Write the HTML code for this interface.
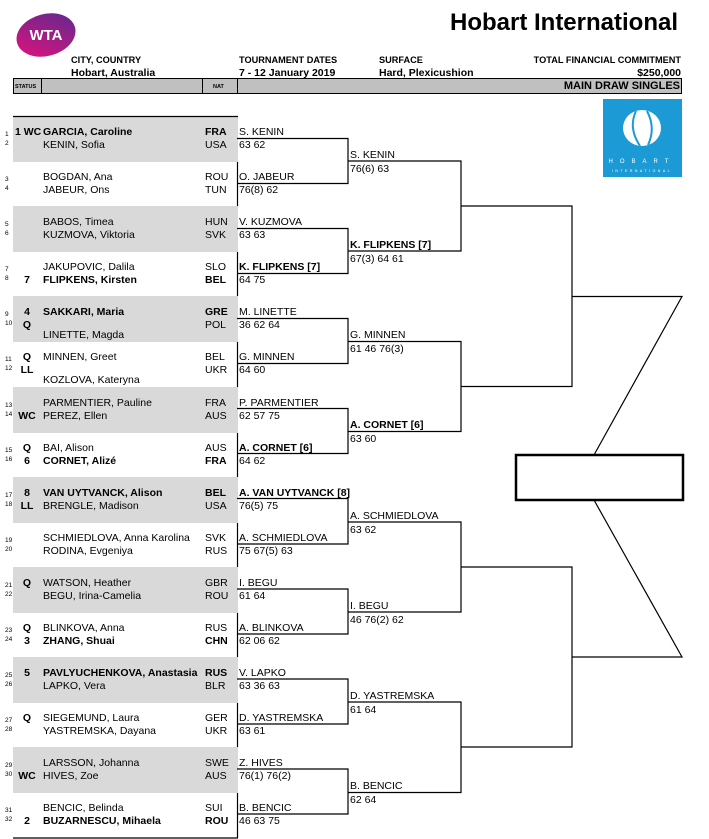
<!DOCTYPE html>
<html><head><meta charset="utf-8"><style>
body{margin:0;width:709px;height:839px;background:#fff;position:relative;overflow:hidden;font-family:"Liberation Sans",Arial,sans-serif;color:#000}
.t{position:absolute;font-size:10.5px;line-height:14px;white-space:nowrap}
.b{font-weight:bold}
.n{position:absolute;font-size:6.5px;line-height:8px;left:5px}
.s{position:absolute;font-size:10.5px;line-height:14px;font-weight:bold;width:24px;text-align:center;left:15px}
.g{position:absolute;left:13px;width:225px;height:46px;background:#d9d9d9}
.h{position:absolute;font-size:9.2px;font-weight:bold;line-height:10px;white-space:nowrap}
.h2{position:absolute;font-size:10.5px;font-weight:bold;line-height:12px;white-space:nowrap}
</style></head><body>
<svg style="position:absolute;left:0;top:0" width="709" height="839">
<defs><linearGradient id="w" x1="0" y1="1" x2="1" y2="0"><stop offset="0" stop-color="#e4117a"/><stop offset="1" stop-color="#5b2a90"/></linearGradient></defs>
<ellipse cx="46" cy="35" rx="30" ry="21" fill="url(#w)" transform="rotate(-15 46 35)"/>
<text x="46" y="40" font-family="Liberation Sans" font-weight="bold" font-size="15" fill="#fff" text-anchor="middle">WTA</text>
<rect x="603" y="99" width="79" height="78" fill="#1b9ad6"/>
<ellipse cx="642" cy="128" rx="19" ry="18" fill="#fff"/>
<path d="M636 111 Q628 128 640 146" stroke="#1b9ad6" stroke-width="2" fill="none"/>
<path d="M647 111 Q656 128 648 145" stroke="#1b9ad6" stroke-width="2" fill="none"/>
<text x="642" y="163" font-family="Liberation Sans" font-size="6" fill="#fff" text-anchor="middle" letter-spacing="7">HOBART</text>
<text x="642" y="172" font-family="Liberation Sans" font-size="3.5" fill="#fff" text-anchor="middle" letter-spacing="2.5">INTERNATIONAL</text>
<rect x="13.5" y="78.5" width="668" height="15" fill="#c0c0c0" stroke="#000" stroke-width="1"/>
<line x1="41.5" y1="79" x2="41.5" y2="93" stroke="#000"/>
<line x1="202.5" y1="79" x2="202.5" y2="93" stroke="#000"/>
<line x1="237.5" y1="79" x2="237.5" y2="93" stroke="#000"/>
</svg>
<div class="t b" style="right:31px;top:9px;font-size:24px;line-height:28px">Hobart International</div>
<div class="h" style="left:71px;top:55px">CITY, COUNTRY</div>
<div class="h2" style="left:71px;top:67px">Hobart, Australia</div>
<div class="h" style="left:239px;top:55px">TOURNAMENT DATES</div>
<div class="h2" style="left:239px;top:67px">7 - 12 January 2019</div>
<div class="h" style="left:379px;top:55px">SURFACE</div>
<div class="h2" style="left:379px;top:67px">Hard, Plexicushion</div>
<div class="h" style="right:28px;top:55px">TOTAL FINANCIAL COMMITMENT</div>
<div class="h2" style="right:28px;top:67px">$250,000</div>
<div class="h" style="left:15px;top:82px;font-size:5.5px">STATUS</div>
<div class="h" style="left:213px;top:82px;font-size:5.5px">NAT</div>
<div class="t b" style="right:29px;top:79px;font-size:11px">MAIN DRAW SINGLES</div>

<div class="g" style="top:116px"></div>
<div class="g" style="top:206px"></div>
<div class="g" style="top:296px"></div>
<div class="g" style="top:387px"></div>
<div class="g" style="top:477px"></div>
<div class="g" style="top:567px"></div>
<div class="g" style="top:657px"></div>
<div class="g" style="top:747px"></div>

<svg style="position:absolute;left:0;top:0" width="709" height="839" fill="none" stroke="#000" stroke-width="1.2">
<line x1="13" y1="116.5" x2="238" y2="116.5"/>
<line x1="13" y1="838" x2="238" y2="838"/>
<line x1="237.5" y1="162" x2="237.5" y2="206"/>
<line x1="237.5" y1="252" x2="237.5" y2="296"/>
<line x1="237.5" y1="342" x2="237.5" y2="387"/>
<line x1="237.5" y1="433" x2="237.5" y2="477"/>
<line x1="237.5" y1="523" x2="237.5" y2="567"/>
<line x1="237.5" y1="613" x2="237.5" y2="657"/>
<line x1="237.5" y1="703" x2="237.5" y2="747"/>
<line x1="237.5" y1="793" x2="237.5" y2="838"/>
<path d="M237 138.5H348V183.5H237"/>
<path d="M237 228.5H348V273.5H237"/>
<path d="M237 318.5H348V363.5H237"/>
<path d="M237 408.5H348V453.5H237"/>
<path d="M237 498.5H348V544H237"/>
<path d="M237 589H348V634H237"/>
<path d="M237 679H348V724H237"/>
<path d="M237 769H348V814H237"/>
<path d="M348 161H461V251H348"/>
<path d="M348 341.5H461V431.5H348"/>
<path d="M348 522H461V612H348"/>
<path d="M348 702H461V792.5H348"/>
<path d="M461 206H572V386.5H461"/>
<path d="M461 567H572V747H461"/>
<path d="M572 296.5H682L594 455"/>
<path d="M572 657H682L594 500"/>
<rect x="516" y="455" width="167" height="45" stroke-width="2.5"/>
</svg>

<div class="n" style="top:131px">1</div><div class="n" style="top:140px">2</div>
<div class="t b" style="left:15px;top:125px">1 WC</div>
<div class="t b" style="left:43px;top:125px">GARCIA, Caroline</div><div class="t b" style="left:205px;top:125px">FRA</div>
<div class="t" style="left:43px;top:138px">KENIN, Sofia</div><div class="t" style="left:205px;top:138px">USA</div>
<div class="t" style="left:239px;top:125px">S. KENIN</div><div class="t" style="left:239px;top:138px">63 62</div>

<div class="n" style="top:176px">3</div><div class="n" style="top:185px">4</div>
<div class="t" style="left:43px;top:170px">BOGDAN, Ana</div><div class="t" style="left:205px;top:170px">ROU</div>
<div class="t" style="left:43px;top:183px">JABEUR, Ons</div><div class="t" style="left:205px;top:183px">TUN</div>
<div class="t" style="left:239px;top:170px">O. JABEUR</div><div class="t" style="left:239px;top:183px">76(8) 62</div>

<div class="n" style="top:221px">5</div><div class="n" style="top:230px">6</div>
<div class="t" style="left:43px;top:215px">BABOS, Timea</div><div class="t" style="left:205px;top:215px">HUN</div>
<div class="t" style="left:43px;top:228px">KUZMOVA, Viktoria</div><div class="t" style="left:205px;top:228px">SVK</div>
<div class="t" style="left:239px;top:215px">V. KUZMOVA</div><div class="t" style="left:239px;top:228px">63 63</div>

<div class="n" style="top:266px">7</div><div class="n" style="top:275px">8</div>
<div class="t" style="left:43px;top:260px">JAKUPOVIC, Dalila</div><div class="t" style="left:205px;top:260px">SLO</div>
<div class="s" style="top:273px">7</div>
<div class="t b" style="left:43px;top:273px">FLIPKENS, Kirsten</div><div class="t b" style="left:205px;top:273px">BEL</div>
<div class="t b" style="left:239px;top:260px">K. FLIPKENS [7]</div><div class="t" style="left:239px;top:273px">64 75</div>

<div class="n" style="top:311px">9</div><div class="n" style="top:320px">10</div>
<div class="s" style="top:305px">4</div>
<div class="t b" style="left:43px;top:305px">SAKKARI, Maria</div><div class="t b" style="left:205px;top:305px">GRE</div>
<div class="s" style="top:318px">Q</div><div class="t" style="left:205px;top:318px">POL</div>
<div class="t" style="left:43px;top:328px">LINETTE, Magda</div>
<div class="t" style="left:239px;top:305px">M. LINETTE</div><div class="t" style="left:239px;top:318px">36 62 64</div>

<div class="n" style="top:356px">11</div><div class="n" style="top:365px">12</div>
<div class="s" style="top:350px">Q</div>
<div class="t" style="left:43px;top:350px">MINNEN, Greet</div><div class="t" style="left:205px;top:350px">BEL</div>
<div class="s" style="top:363px">LL</div><div class="t" style="left:205px;top:363px">UKR</div>
<div class="t" style="left:43px;top:373px">KOZLOVA, Kateryna</div>
<div class="t" style="left:239px;top:350px">G. MINNEN</div><div class="t" style="left:239px;top:363px">64 60</div>

<div class="n" style="top:402px">13</div><div class="n" style="top:411px">14</div>
<div class="t" style="left:43px;top:396px">PARMENTIER, Pauline</div><div class="t" style="left:205px;top:396px">FRA</div>
<div class="s" style="top:409px">WC</div>
<div class="t" style="left:43px;top:409px">PEREZ, Ellen</div><div class="t" style="left:205px;top:409px">AUS</div>
<div class="t" style="left:239px;top:396px">P. PARMENTIER</div><div class="t" style="left:239px;top:409px">62 57 75</div>

<div class="n" style="top:447px">15</div><div class="n" style="top:456px">16</div>
<div class="s" style="top:441px">Q</div>
<div class="t" style="left:43px;top:441px">BAI, Alison</div><div class="t" style="left:205px;top:441px">AUS</div>
<div class="s" style="top:454px">6</div>
<div class="t b" style="left:43px;top:454px">CORNET, Alizé</div><div class="t b" style="left:205px;top:454px">FRA</div>
<div class="t b" style="left:239px;top:441px">A. CORNET [6]</div><div class="t" style="left:239px;top:454px">64 62</div>

<div class="n" style="top:492px">17</div><div class="n" style="top:501px">18</div>
<div class="s" style="top:486px">8</div>
<div class="t b" style="left:43px;top:486px">VAN UYTVANCK, Alison</div><div class="t b" style="left:205px;top:486px">BEL</div>
<div class="s" style="top:499px">LL</div>
<div class="t" style="left:43px;top:499px">BRENGLE, Madison</div><div class="t" style="left:205px;top:499px">USA</div>
<div class="t b" style="left:239px;top:486px">A. VAN UYTVANCK [8]</div><div class="t" style="left:239px;top:499px">76(5) 75</div>

<div class="n" style="top:537px">19</div><div class="n" style="top:546px">20</div>
<div class="t" style="left:43px;top:531px">SCHMIEDLOVA, Anna Karolina</div><div class="t" style="left:205px;top:531px">SVK</div>
<div class="t" style="left:43px;top:544px">RODINA, Evgeniya</div><div class="t" style="left:205px;top:544px">RUS</div>
<div class="t" style="left:239px;top:531px">A. SCHMIEDLOVA</div><div class="t" style="left:239px;top:544px">75 67(5) 63</div>

<div class="n" style="top:582px">21</div><div class="n" style="top:591px">22</div>
<div class="s" style="top:576px">Q</div>
<div class="t" style="left:43px;top:576px">WATSON, Heather</div><div class="t" style="left:205px;top:576px">GBR</div>
<div class="t" style="left:43px;top:589px">BEGU, Irina-Camelia</div><div class="t" style="left:205px;top:589px">ROU</div>
<div class="t" style="left:239px;top:576px">I. BEGU</div><div class="t" style="left:239px;top:589px">61 64</div>

<div class="n" style="top:627px">23</div><div class="n" style="top:636px">24</div>
<div class="s" style="top:621px">Q</div>
<div class="t" style="left:43px;top:621px">BLINKOVA, Anna</div><div class="t" style="left:205px;top:621px">RUS</div>
<div class="s" style="top:634px">3</div>
<div class="t b" style="left:43px;top:634px">ZHANG, Shuai</div><div class="t b" style="left:205px;top:634px">CHN</div>
<div class="t" style="left:239px;top:621px">A. BLINKOVA</div><div class="t" style="left:239px;top:634px">62 06 62</div>

<div class="n" style="top:672px">25</div><div class="n" style="top:681px">26</div>
<div class="s" style="top:666px">5</div>
<div class="t b" style="left:43px;top:666px">PAVLYUCHENKOVA, Anastasia</div><div class="t b" style="left:205px;top:666px">RUS</div>
<div class="t" style="left:43px;top:679px">LAPKO, Vera</div><div class="t" style="left:205px;top:679px">BLR</div>
<div class="t" style="left:239px;top:666px">V. LAPKO</div><div class="t" style="left:239px;top:679px">63 36 63</div>

<div class="n" style="top:717px">27</div><div class="n" style="top:726px">28</div>
<div class="s" style="top:711px">Q</div>
<div class="t" style="left:43px;top:711px">SIEGEMUND, Laura</div><div class="t" style="left:205px;top:711px">GER</div>
<div class="t" style="left:43px;top:724px">YASTREMSKA, Dayana</div><div class="t" style="left:205px;top:724px">UKR</div>
<div class="t" style="left:239px;top:711px">D. YASTREMSKA</div><div class="t" style="left:239px;top:724px">63 61</div>

<div class="n" style="top:762px">29</div><div class="n" style="top:771px">30</div>
<div class="t" style="left:43px;top:756px">LARSSON, Johanna</div><div class="t" style="left:205px;top:756px">SWE</div>
<div class="s" style="top:769px">WC</div>
<div class="t" style="left:43px;top:769px">HIVES, Zoe</div><div class="t" style="left:205px;top:769px">AUS</div>
<div class="t" style="left:239px;top:756px">Z. HIVES</div><div class="t" style="left:239px;top:769px">76(1) 76(2)</div>

<div class="n" style="top:807px">31</div><div class="n" style="top:816px">32</div>
<div class="t" style="left:43px;top:801px">BENCIC, Belinda</div><div class="t" style="left:205px;top:801px">SUI</div>
<div class="s" style="top:814px">2</div>
<div class="t b" style="left:43px;top:814px">BUZARNESCU, Mihaela</div><div class="t b" style="left:205px;top:814px">ROU</div>
<div class="t" style="left:239px;top:801px">B. BENCIC</div><div class="t" style="left:239px;top:814px">46 63 75</div>

<div class="t" style="left:350px;top:148px">S. KENIN</div><div class="t" style="left:350px;top:162px">76(6) 63</div>
<div class="t b" style="left:350px;top:238px">K. FLIPKENS [7]</div><div class="t" style="left:350px;top:252px">67(3) 64 61</div>
<div class="t" style="left:350px;top:328px">G. MINNEN</div><div class="t" style="left:350px;top:342px">61 46 76(3)</div>
<div class="t b" style="left:350px;top:418px">A. CORNET [6]</div><div class="t" style="left:350px;top:432px">63 60</div>
<div class="t" style="left:350px;top:509px">A. SCHMIEDLOVA</div><div class="t" style="left:350px;top:523px">63 62</div>
<div class="t" style="left:350px;top:599px">I. BEGU</div><div class="t" style="left:350px;top:613px">46 76(2) 62</div>
<div class="t" style="left:350px;top:689px">D. YASTREMSKA</div><div class="t" style="left:350px;top:703px">61 64</div>
<div class="t" style="left:350px;top:779px">B. BENCIC</div><div class="t" style="left:350px;top:793px">62 64</div>
</body></html>
